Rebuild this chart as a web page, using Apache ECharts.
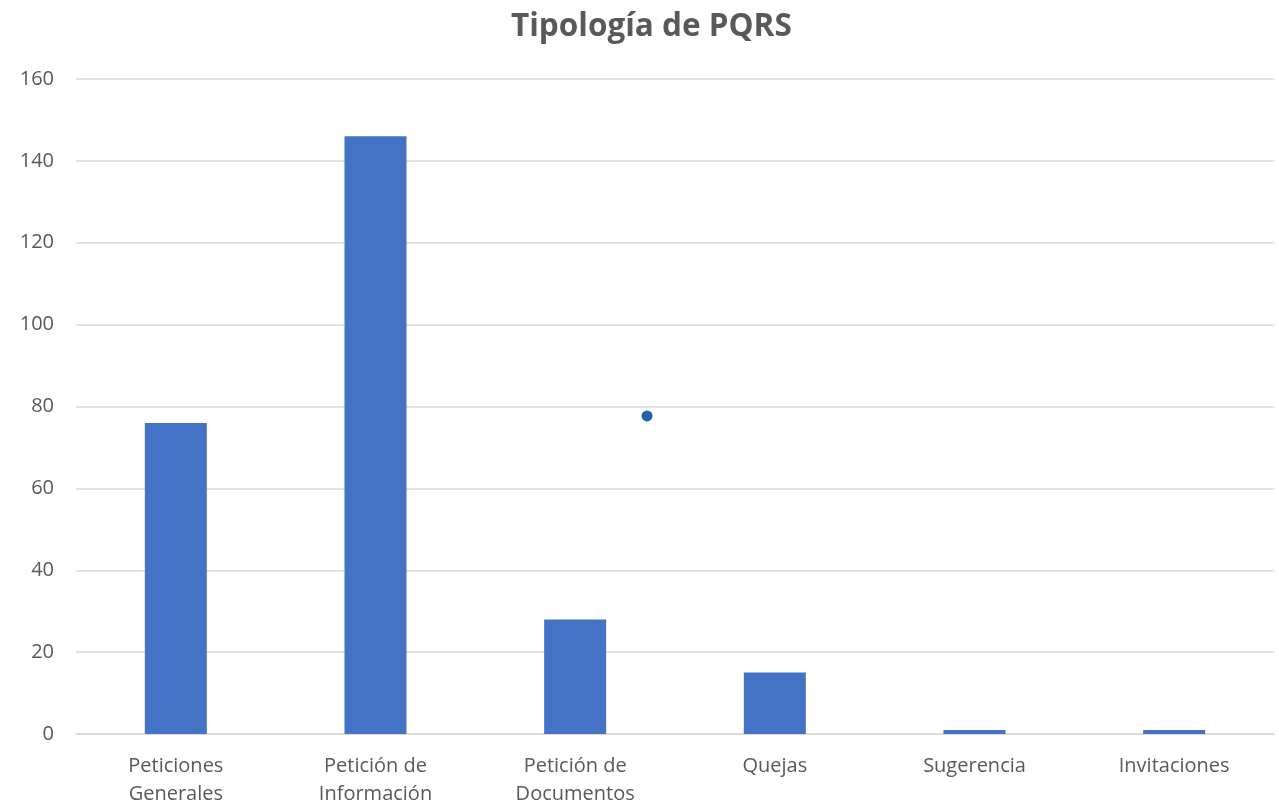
<!DOCTYPE html>
<html>
<head>
<meta charset="utf-8">
<script src="https://cdn.jsdelivr.net/npm/echarts@6/dist/echarts.min.js"></script>
<style>html,body{margin:0;padding:0;background:#fff;}#c{width:1279px;height:805px;}</style>
</head>
<body>
<div id="c"></div>
<script>
const categories = ['Peticiones\nGenerales', 'Petición de\nInformación', 'Petición de\nDocumentos', 'Quejas', 'Sugerencia', 'Invitaciones'];
const values = [76, 146, 28, 15, 1, 1];
const yTicks = {min: 0, max: 160, interval: 20};
const strayPoint = [[2.86, 77.7]];

const chart = echarts.init(document.getElementById('c'));
const font = '"Open Sans", "Liberation Sans", sans-serif';
chart.setOption({
  animation: false,
  title: {
    text: 'Tipología de PQRS', left: 506, top: 6,
    textStyle: {fontFamily: font, fontSize: 31.5, fontWeight: 'bold', color: '#595959'}
  },
  grid: {left: 76, right: 5, top: 79, bottom: 71, outerBoundsMode: 'none', containLabel: false},
  xAxis: [{
    type: 'category', data: categories,
    axisLine: {lineStyle: {color: '#d9d9d9', width: 1.5}},
    axisTick: {show: false},
    axisLabel: {fontFamily: font, fontSize: 20, color: '#595959', margin: 18, lineHeight: 28, interval: 0}
  }, {
    type: 'value', min: 0, max: 6, show: false
  }],
  yAxis: {
    type: 'value', min: yTicks.min, max: yTicks.max, interval: yTicks.interval,
    axisLine: {show: false}, axisTick: {show: false},
    splitLine: {lineStyle: {color: '#d9d9d9', width: 1.5}},
    axisLabel: {fontFamily: font, fontSize: 20, color: '#595959', margin: 22}
  },
  series: [{
    type: 'bar', data: values, barWidth: 62, xAxisIndex: 0,
    itemStyle: {color: '#4472c4'}
  }, {
    type: 'scatter', data: strayPoint, xAxisIndex: 1, symbolSize: 11,
    itemStyle: {color: '#1f64ad', opacity: 1}
  }]
});
</script>
</body>
</html>
